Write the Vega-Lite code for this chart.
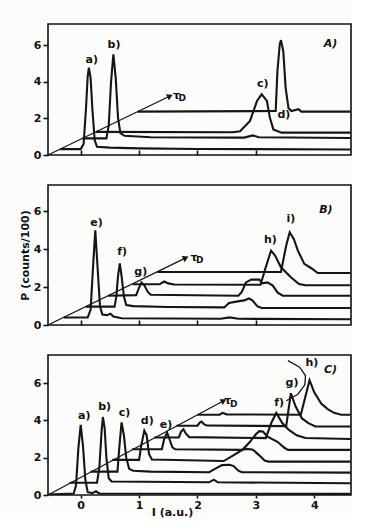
{
  "$schema": "https://vega.github.io/schema/vega-lite/v6.json",
  "background": "#fcfcfb",
  "padding": {"left": 18, "top": 23, "right": 0, "bottom": 0},
  "spacing": 30,
  "bounds": "flush",
  "config": {
    "view": {"stroke": "#111", "strokeWidth": 1.6},
    "axis": {"grid": false, "domain": false, "tickColor": "#111", "labelColor": "#111", "titleColor": "#111", "labelFont": "DejaVu Sans", "titleFont": "DejaVu Sans", "labelFontSize": 11, "titleFontSize": 11, "labelFontWeight": "bold", "titleFontWeight": "bold", "tickWidth": 1.6},
    "text": {"font": "DejaVu Sans", "fontSize": 11, "color": "#111"}
  },
  "datasets": {
    "traces": [
      {"p":"A","s":"a","x":-0.35,"y":0.32},{"p":"A","s":"a","x":0.0,"y":0.32},{"p":"A","s":"a","x":0.05,"y":0.6},{"p":"A","s":"a","x":0.09,"y":2.5},{"p":"A","s":"a","x":0.12,"y":4.3},{"p":"A","s":"a","x":0.14,"y":4.77},{"p":"A","s":"a","x":0.17,"y":4.2},{"p":"A","s":"a","x":0.2,"y":2.5},{"p":"A","s":"a","x":0.24,"y":0.8},{"p":"A","s":"a","x":0.28,"y":0.45},{"p":"A","s":"a","x":0.5,"y":0.4},{"p":"A","s":"a","x":1.0,"y":0.36},{"p":"A","s":"a","x":2.0,"y":0.33},{"p":"A","s":"a","x":3.0,"y":0.32},{"p":"A","s":"a","x":4.62,"y":0.3},
      {"p":"A","s":"b","x":0.03,"y":0.91},{"p":"A","s":"b","x":0.44,"y":0.91},{"p":"A","s":"b","x":0.48,"y":1.6},{"p":"A","s":"b","x":0.52,"y":4.0},{"p":"A","s":"b","x":0.56,"y":5.5},{"p":"A","s":"b","x":0.6,"y":4.2},{"p":"A","s":"b","x":0.64,"y":2.0},{"p":"A","s":"b","x":0.68,"y":1.2},{"p":"A","s":"b","x":0.75,"y":1.05},{"p":"A","s":"b","x":1.2,"y":0.97},{"p":"A","s":"b","x":2.8,"y":0.95},{"p":"A","s":"b","x":2.95,"y":1.07},{"p":"A","s":"b","x":3.05,"y":0.97},{"p":"A","s":"b","x":4.62,"y":0.93},
      {"p":"A","s":"c","x":0.26,"y":1.26},{"p":"A","s":"c","x":2.6,"y":1.24},{"p":"A","s":"c","x":2.73,"y":1.3},{"p":"A","s":"c","x":2.9,"y":1.86},{"p":"A","s":"c","x":3.02,"y":2.95},{"p":"A","s":"c","x":3.1,"y":3.31},{"p":"A","s":"c","x":3.19,"y":2.95},{"p":"A","s":"c","x":3.24,"y":2.04},{"p":"A","s":"c","x":3.3,"y":1.4},{"p":"A","s":"c","x":3.44,"y":1.22},{"p":"A","s":"c","x":4.62,"y":1.22},
      {"p":"A","s":"d","x":0.98,"y":2.37},{"p":"A","s":"d","x":3.34,"y":2.4},{"p":"A","s":"d","x":3.37,"y":4.59},{"p":"A","s":"d","x":3.41,"y":6.05},{"p":"A","s":"d","x":3.43,"y":6.27},{"p":"A","s":"d","x":3.47,"y":5.68},{"p":"A","s":"d","x":3.51,"y":3.68},{"p":"A","s":"d","x":3.56,"y":2.55},{"p":"A","s":"d","x":3.61,"y":2.4},{"p":"A","s":"d","x":3.73,"y":2.5},{"p":"A","s":"d","x":3.78,"y":2.37},{"p":"A","s":"d","x":4.62,"y":2.37},

      {"p":"B","s":"e","x":-0.29,"y":0.4},{"p":"B","s":"e","x":0.12,"y":0.4},{"p":"B","s":"e","x":0.17,"y":0.8},{"p":"B","s":"e","x":0.21,"y":3.0},{"p":"B","s":"e","x":0.25,"y":5.0},{"p":"B","s":"e","x":0.29,"y":3.0},{"p":"B","s":"e","x":0.33,"y":1.0},{"p":"B","s":"e","x":0.37,"y":0.55},{"p":"B","s":"e","x":0.45,"y":0.52},{"p":"B","s":"e","x":0.51,"y":0.6},{"p":"B","s":"e","x":0.56,"y":0.45},{"p":"B","s":"e","x":0.7,"y":0.36},{"p":"B","s":"e","x":2.4,"y":0.33},{"p":"B","s":"e","x":2.55,"y":0.4},{"p":"B","s":"e","x":2.7,"y":0.33},{"p":"B","s":"e","x":4.62,"y":0.3},
      {"p":"B","s":"f","x":0.09,"y":0.97},{"p":"B","s":"f","x":0.58,"y":0.97},{"p":"B","s":"f","x":0.61,"y":1.5},{"p":"B","s":"f","x":0.64,"y":2.6},{"p":"B","s":"f","x":0.67,"y":3.25},{"p":"B","s":"f","x":0.7,"y":2.6},{"p":"B","s":"f","x":0.74,"y":1.5},{"p":"B","s":"f","x":0.78,"y":1.05},{"p":"B","s":"f","x":0.9,"y":1.0},{"p":"B","s":"f","x":1.5,"y":0.95},{"p":"B","s":"f","x":2.46,"y":0.93},{"p":"B","s":"f","x":2.54,"y":1.16},{"p":"B","s":"f","x":2.69,"y":1.25},{"p":"B","s":"f","x":2.8,"y":1.3},{"p":"B","s":"f","x":2.88,"y":1.4},{"p":"B","s":"f","x":2.94,"y":1.3},{"p":"B","s":"f","x":3.03,"y":0.98},{"p":"B","s":"f","x":3.1,"y":0.9},{"p":"B","s":"f","x":4.62,"y":0.9},
      {"p":"B","s":"g","x":0.47,"y":1.55},{"p":"B","s":"g","x":0.95,"y":1.58},{"p":"B","s":"g","x":0.99,"y":1.9},{"p":"B","s":"g","x":1.04,"y":2.25},{"p":"B","s":"g","x":1.09,"y":2.1},{"p":"B","s":"g","x":1.15,"y":1.75},{"p":"B","s":"g","x":1.2,"y":1.6},{"p":"B","s":"g","x":2.7,"y":1.55},{"p":"B","s":"g","x":2.76,"y":1.75},{"p":"B","s":"g","x":2.83,"y":2.25},{"p":"B","s":"g","x":2.92,"y":2.4},{"p":"B","s":"g","x":3.06,"y":2.4},{"p":"B","s":"g","x":3.11,"y":2.2},{"p":"B","s":"g","x":3.2,"y":2.25},{"p":"B","s":"g","x":3.29,"y":2.08},{"p":"B","s":"g","x":3.37,"y":1.72},{"p":"B","s":"g","x":3.46,"y":1.55},{"p":"B","s":"g","x":4.62,"y":1.55},
      {"p":"B","s":"h","x":0.89,"y":2.15},{"p":"B","s":"h","x":1.35,"y":2.15},{"p":"B","s":"h","x":1.43,"y":2.3},{"p":"B","s":"h","x":1.5,"y":2.2},{"p":"B","s":"h","x":1.6,"y":2.14},{"p":"B","s":"h","x":3.08,"y":2.13},{"p":"B","s":"h","x":3.17,"y":3.05},{"p":"B","s":"h","x":3.26,"y":3.93},{"p":"B","s":"h","x":3.33,"y":3.67},{"p":"B","s":"h","x":3.43,"y":3.05},{"p":"B","s":"h","x":3.6,"y":2.52},{"p":"B","s":"h","x":3.74,"y":2.17},{"p":"B","s":"h","x":3.85,"y":2.1},{"p":"B","s":"h","x":4.62,"y":2.1},
      {"p":"B","s":"i","x":1.31,"y":2.8},{"p":"B","s":"i","x":3.43,"y":2.8},{"p":"B","s":"i","x":3.52,"y":4.2},{"p":"B","s":"i","x":3.58,"y":4.9},{"p":"B","s":"i","x":3.65,"y":4.55},{"p":"B","s":"i","x":3.72,"y":3.93},{"p":"B","s":"i","x":3.83,"y":3.23},{"p":"B","s":"i","x":3.95,"y":3.0},{"p":"B","s":"i","x":4.06,"y":2.75},{"p":"B","s":"i","x":4.62,"y":2.75},

      {"p":"C","s":"a","x":-0.56,"y":0.02},{"p":"C","s":"a","x":-0.12,"y":0.08},{"p":"C","s":"a","x":-0.08,"y":0.5},{"p":"C","s":"a","x":-0.04,"y":2.5},{"p":"C","s":"a","x":0.0,"y":3.76},{"p":"C","s":"a","x":0.04,"y":2.6},{"p":"C","s":"a","x":0.08,"y":0.8},{"p":"C","s":"a","x":0.12,"y":0.15},{"p":"C","s":"a","x":0.2,"y":0.1},{"p":"C","s":"a","x":0.26,"y":0.2},{"p":"C","s":"a","x":0.32,"y":0.08},{"p":"C","s":"a","x":4.62,"y":0.06},
      {"p":"C","s":"b","x":-0.19,"y":0.66},{"p":"C","s":"b","x":0.28,"y":0.66},{"p":"C","s":"b","x":0.32,"y":1.5},{"p":"C","s":"b","x":0.36,"y":3.5},{"p":"C","s":"b","x":0.38,"y":4.18},{"p":"C","s":"b","x":0.41,"y":3.6},{"p":"C","s":"b","x":0.44,"y":2.0},{"p":"C","s":"b","x":0.48,"y":0.9},{"p":"C","s":"b","x":0.53,"y":0.72},{"p":"C","s":"b","x":2.2,"y":0.68},{"p":"C","s":"b","x":2.28,"y":0.82},{"p":"C","s":"b","x":2.35,"y":0.68},{"p":"C","s":"b","x":4.62,"y":0.63},
      {"p":"C","s":"c","x":0.17,"y":1.25},{"p":"C","s":"c","x":0.63,"y":1.25},{"p":"C","s":"c","x":0.66,"y":2.5},{"p":"C","s":"c","x":0.7,"y":3.89},{"p":"C","s":"c","x":0.74,"y":3.2},{"p":"C","s":"c","x":0.78,"y":2.0},{"p":"C","s":"c","x":0.83,"y":1.4},{"p":"C","s":"c","x":0.9,"y":1.3},{"p":"C","s":"c","x":1.2,"y":1.25},{"p":"C","s":"c","x":2.2,"y":1.22},{"p":"C","s":"c","x":2.3,"y":1.4},{"p":"C","s":"c","x":2.42,"y":1.6},{"p":"C","s":"c","x":2.55,"y":1.62},{"p":"C","s":"c","x":2.62,"y":1.55},{"p":"C","s":"c","x":2.7,"y":1.3},{"p":"C","s":"c","x":2.76,"y":1.22},{"p":"C","s":"c","x":4.62,"y":1.2},
      {"p":"C","s":"d","x":0.54,"y":1.88},{"p":"C","s":"d","x":1.0,"y":1.88},{"p":"C","s":"d","x":1.04,"y":2.7},{"p":"C","s":"d","x":1.09,"y":3.45},{"p":"C","s":"d","x":1.13,"y":3.2},{"p":"C","s":"d","x":1.17,"y":2.2},{"p":"C","s":"d","x":1.22,"y":1.9},{"p":"C","s":"d","x":2.45,"y":1.82},{"p":"C","s":"d","x":2.6,"y":2.1},{"p":"C","s":"d","x":2.77,"y":2.42},{"p":"C","s":"d","x":2.85,"y":2.47},{"p":"C","s":"d","x":2.95,"y":2.42},{"p":"C","s":"d","x":3.05,"y":2.15},{"p":"C","s":"d","x":3.15,"y":1.85},{"p":"C","s":"d","x":3.22,"y":1.79},{"p":"C","s":"d","x":4.62,"y":1.79},
      {"p":"C","s":"e","x":0.88,"y":2.45},{"p":"C","s":"e","x":1.39,"y":2.45},{"p":"C","s":"e","x":1.43,"y":3.0},{"p":"C","s":"e","x":1.48,"y":3.35},{"p":"C","s":"e","x":1.52,"y":3.0},{"p":"C","s":"e","x":1.57,"y":2.55},{"p":"C","s":"e","x":1.62,"y":2.45},{"p":"C","s":"e","x":2.77,"y":2.42},{"p":"C","s":"e","x":2.9,"y":2.85},{"p":"C","s":"e","x":3.0,"y":3.25},{"p":"C","s":"e","x":3.06,"y":3.42},{"p":"C","s":"e","x":3.12,"y":3.4},{"p":"C","s":"e","x":3.2,"y":3.13},{"p":"C","s":"e","x":3.37,"y":2.85},{"p":"C","s":"e","x":3.49,"y":2.53},{"p":"C","s":"e","x":3.55,"y":2.42},{"p":"C","s":"e","x":4.62,"y":2.42},
      {"p":"C","s":"f","x":1.26,"y":3.08},{"p":"C","s":"f","x":1.68,"y":3.08},{"p":"C","s":"f","x":1.72,"y":3.4},{"p":"C","s":"f","x":1.76,"y":3.52},{"p":"C","s":"f","x":1.8,"y":3.3},{"p":"C","s":"f","x":1.86,"y":3.1},{"p":"C","s":"f","x":3.17,"y":3.05},{"p":"C","s":"f","x":3.27,"y":3.9},{"p":"C","s":"f","x":3.35,"y":4.4},{"p":"C","s":"f","x":3.45,"y":3.87},{"p":"C","s":"f","x":3.56,"y":3.5},{"p":"C","s":"f","x":3.7,"y":3.2},{"p":"C","s":"f","x":3.85,"y":3.05},{"p":"C","s":"f","x":4.62,"y":3.0},
      {"p":"C","s":"g","x":1.64,"y":3.71},{"p":"C","s":"g","x":2.0,"y":3.71},{"p":"C","s":"g","x":2.04,"y":3.88},{"p":"C","s":"g","x":2.07,"y":3.93},{"p":"C","s":"g","x":2.11,"y":3.8},{"p":"C","s":"g","x":2.16,"y":3.72},{"p":"C","s":"g","x":3.52,"y":3.69},{"p":"C","s":"g","x":3.6,"y":5.45},{"p":"C","s":"g","x":3.68,"y":4.75},{"p":"C","s":"g","x":3.79,"y":4.1},{"p":"C","s":"g","x":3.9,"y":3.85},{"p":"C","s":"g","x":4.02,"y":3.67},{"p":"C","s":"g","x":4.62,"y":3.67},
      {"p":"C","s":"h","x":2.0,"y":4.3},{"p":"C","s":"h","x":2.38,"y":4.3},{"p":"C","s":"h","x":2.43,"y":4.4},{"p":"C","s":"h","x":2.5,"y":4.32},{"p":"C","s":"h","x":3.77,"y":4.3},{"p":"C","s":"h","x":3.92,"y":6.15},{"p":"C","s":"h","x":4.0,"y":5.5},{"p":"C","s":"h","x":4.12,"y":4.9},{"p":"C","s":"h","x":4.23,"y":4.6},{"p":"C","s":"h","x":4.34,"y":4.4},{"p":"C","s":"h","x":4.46,"y":4.3},{"p":"C","s":"h","x":4.62,"y":4.3}
    ],
    "thin": [
      {"p":"A","s":"arrow","i":0,"x":-0.56,"y":0},{"p":"A","s":"arrow","i":1,"x":1.53,"y":3.22},
      {"p":"B","s":"arrow","i":0,"x":-0.56,"y":0},{"p":"B","s":"arrow","i":1,"x":1.8,"y":3.55},
      {"p":"C","s":"arrow","i":0,"x":-0.56,"y":0},{"p":"C","s":"arrow","i":1,"x":2.45,"y":5.05},
      {"p":"C","s":"arc","i":0,"x":3.55,"y":7.2},{"p":"C","s":"arc","i":1,"x":3.75,"y":6.85},{"p":"C","s":"arc","i":2,"x":3.85,"y":6.4},{"p":"C","s":"arc","i":3,"x":3.84,"y":5.9},{"p":"C","s":"arc","i":4,"x":3.72,"y":5.4},{"p":"C","s":"arc","i":5,"x":3.52,"y":5.05}
    ],
    "labels": [
      {"p":"A","k":"l","t":"a)","x":0.19,"y":5.2},{"p":"A","k":"l","t":"b)","x":0.57,"y":6.0},{"p":"A","k":"l","t":"c)","x":3.12,"y":3.88},{"p":"A","k":"l","t":"d)","x":3.48,"y":2.18},{"p":"A","k":"P","t":"A)","x":4.28,"y":6.05},{"p":"A","k":"l","t":"τ","x":1.64,"y":3.22},{"p":"A","k":"s","t":"D","x":1.74,"y":3.1},
      {"p":"B","k":"l","t":"e)","x":0.27,"y":5.4},{"p":"B","k":"l","t":"f)","x":0.71,"y":3.84},{"p":"B","k":"l","t":"g)","x":1.03,"y":2.82},{"p":"B","k":"l","t":"h)","x":3.25,"y":4.5},{"p":"B","k":"l","t":"i)","x":3.6,"y":5.58},{"p":"B","k":"P","t":"B)","x":4.2,"y":6.1},{"p":"B","k":"l","t":"τ","x":1.94,"y":3.55},{"p":"B","k":"s","t":"D","x":2.04,"y":3.43},
      {"p":"C","k":"l","t":"a)","x":0.06,"y":4.25},{"p":"C","k":"l","t":"b)","x":0.41,"y":4.71},{"p":"C","k":"l","t":"c)","x":0.75,"y":4.39},{"p":"C","k":"l","t":"d)","x":1.14,"y":3.94},{"p":"C","k":"l","t":"e)","x":1.46,"y":3.73},{"p":"C","k":"l","t":"f)","x":3.4,"y":4.93},{"p":"C","k":"l","t":"g)","x":3.62,"y":6.0},{"p":"C","k":"l","t":"h)","x":3.96,"y":7.05},{"p":"C","k":"P","t":"C)","x":4.28,"y":6.7},{"p":"C","k":"l","t":"τ","x":2.52,"y":5.02},{"p":"C","k":"s","t":"D","x":2.62,"y":4.9}
    ]
  },
  "vconcat": [
    {
      "width": 303, "height": 131,
      "encoding": {
        "x": {"field": "x", "type": "quantitative", "scale": {"domain": [-0.56, 4.63], "nice": false, "zero": false}, "axis": {"values": [0, 1, 2, 3], "labels": false, "title": null, "tickSize": -5}},
        "y": {"field": "y", "type": "quantitative", "scale": {"domain": [0, 7.15], "nice": false}, "axis": {"values": [0, 2, 4, 6], "title": null, "tickSize": 5, "labelPadding": 2}}
      },
      "layer": [
        {"data": {"name": "traces"}, "transform": [{"filter": "datum.p == 'A'"}], "mark": {"type": "line", "color": "#151515", "strokeWidth": 2.1, "clip": true}, "encoding": {"detail": {"field": "s"}}},
        {"data": {"name": "thin"}, "transform": [{"filter": "datum.p == 'A'"}], "mark": {"type": "line", "color": "#151515", "strokeWidth": 1.3}, "encoding": {"detail": {"field": "s"}, "order": {"field": "i"}}},
        {"data": {"name": "thin"}, "transform": [{"filter": "datum.p == 'A' && datum.i == 1 && datum.s == 'arrow'"}], "mark": {"type": "point", "shape": "triangle-right", "angle": 334, "filled": true, "color": "#151515", "size": 45, "opacity": 1}},
        {"data": {"name": "labels"}, "transform": [{"filter": "datum.p == 'A' && datum.k == 'l'"}], "mark": {"type": "text", "color": "#111", "fontWeight": "bold"}, "encoding": {"text": {"field": "t"}}},
        {"data": {"name": "labels"}, "transform": [{"filter": "datum.p == 'A' && datum.k == 'P'"}], "mark": {"type": "text", "color": "#111", "fontWeight": "bold", "fontStyle": "italic"}, "encoding": {"text": {"field": "t"}}},
        {"data": {"name": "labels"}, "transform": [{"filter": "datum.p == 'A' && datum.k == 's'"}], "mark": {"type": "text", "color": "#111", "fontWeight": "bold", "fontSize": 9}, "encoding": {"text": {"field": "t"}}}
      ]
    },
    {
      "width": 303, "height": 140,
      "encoding": {
        "x": {"field": "x", "type": "quantitative", "scale": {"domain": [-0.56, 4.63], "nice": false, "zero": false}, "axis": {"values": [0, 1, 2, 3], "labels": false, "title": null, "tickSize": -5}},
        "y": {"field": "y", "type": "quantitative", "scale": {"domain": [0, 7.4], "nice": false}, "axis": {"values": [0, 2, 4, 6], "title": "P (counts/100)", "titlePadding": 3, "tickSize": 5, "labelPadding": 2}}
      },
      "layer": [
        {"data": {"name": "traces"}, "transform": [{"filter": "datum.p == 'B'"}], "mark": {"type": "line", "color": "#151515", "strokeWidth": 2.1, "clip": true}, "encoding": {"detail": {"field": "s"}}},
        {"data": {"name": "thin"}, "transform": [{"filter": "datum.p == 'B'"}], "mark": {"type": "line", "color": "#151515", "strokeWidth": 1.3}, "encoding": {"detail": {"field": "s"}, "order": {"field": "i"}}},
        {"data": {"name": "thin"}, "transform": [{"filter": "datum.p == 'B' && datum.i == 1 && datum.s == 'arrow'"}], "mark": {"type": "point", "shape": "triangle-right", "angle": 334, "filled": true, "color": "#151515", "size": 45, "opacity": 1}},
        {"data": {"name": "labels"}, "transform": [{"filter": "datum.p == 'B' && datum.k == 'l'"}], "mark": {"type": "text", "color": "#111", "fontWeight": "bold"}, "encoding": {"text": {"field": "t"}}},
        {"data": {"name": "labels"}, "transform": [{"filter": "datum.p == 'B' && datum.k == 'P'"}], "mark": {"type": "text", "color": "#111", "fontWeight": "bold", "fontStyle": "italic"}, "encoding": {"text": {"field": "t"}}},
        {"data": {"name": "labels"}, "transform": [{"filter": "datum.p == 'B' && datum.k == 's'"}], "mark": {"type": "text", "color": "#111", "fontWeight": "bold", "fontSize": 9}, "encoding": {"text": {"field": "t"}}}
      ]
    },
    {
      "width": 303, "height": 140,
      "encoding": {
        "x": {"field": "x", "type": "quantitative", "scale": {"domain": [-0.56, 4.63], "nice": false, "zero": false}, "axis": {"values": [0, 1, 2, 3, 4], "format": "d", "title": "I (a.u.)", "titleX": 124, "titleY": 17, "titleBaseline": "middle", "tickSize": 3, "labelPadding": 1}},
        "y": {"field": "y", "type": "quantitative", "scale": {"domain": [0, 7.5], "nice": false}, "axis": {"values": [0, 2, 4, 6], "title": null, "tickSize": 5, "labelPadding": 2}}
      },
      "layer": [
        {"data": {"name": "traces"}, "transform": [{"filter": "datum.p == 'C'"}], "mark": {"type": "line", "color": "#151515", "strokeWidth": 2.1, "clip": true}, "encoding": {"detail": {"field": "s"}}},
        {"data": {"name": "thin"}, "transform": [{"filter": "datum.p == 'C'"}], "mark": {"type": "line", "color": "#151515", "strokeWidth": 1.3}, "encoding": {"detail": {"field": "s"}, "order": {"field": "i"}}},
        {"data": {"name": "thin"}, "transform": [{"filter": "datum.p == 'C' && datum.i == 1 && datum.s == 'arrow'"}], "mark": {"type": "point", "shape": "triangle-right", "angle": 332, "filled": true, "color": "#151515", "size": 45, "opacity": 1}},
        {"data": {"name": "labels"}, "transform": [{"filter": "datum.p == 'C' && datum.k == 'l'"}], "mark": {"type": "text", "color": "#111", "fontWeight": "bold"}, "encoding": {"text": {"field": "t"}}},
        {"data": {"name": "labels"}, "transform": [{"filter": "datum.p == 'C' && datum.k == 'P'"}], "mark": {"type": "text", "color": "#111", "fontWeight": "bold", "fontStyle": "italic"}, "encoding": {"text": {"field": "t"}}},
        {"data": {"name": "labels"}, "transform": [{"filter": "datum.p == 'C' && datum.k == 's'"}], "mark": {"type": "text", "color": "#111", "fontWeight": "bold", "fontSize": 9}, "encoding": {"text": {"field": "t"}}}
      ]
    }
  ]
}
